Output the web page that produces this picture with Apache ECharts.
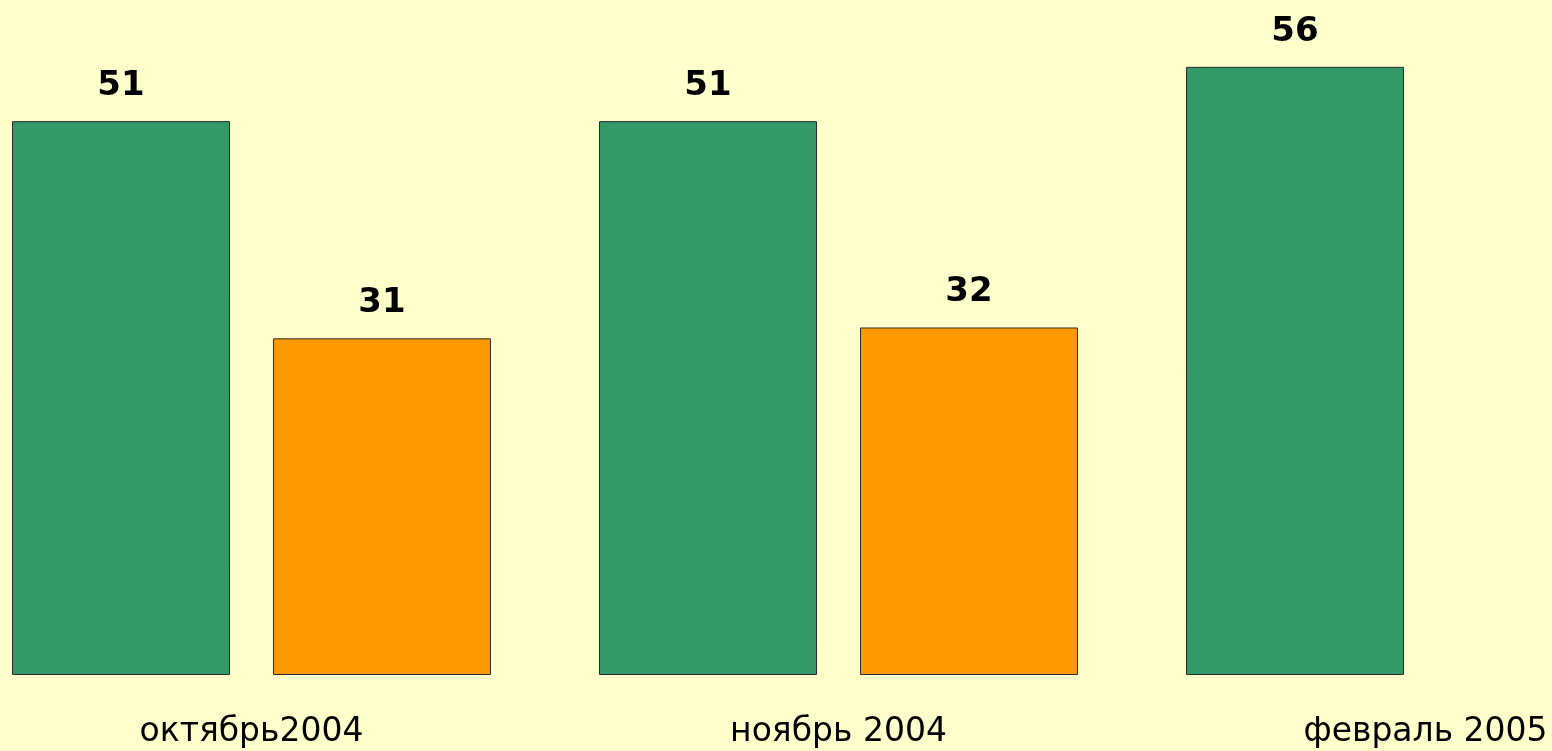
<!DOCTYPE html>
<html>
<head>
<meta charset="utf-8">
<script src="https://cdn.jsdelivr.net/npm/echarts@6/dist/echarts.min.js"></script>
<style>
  html, body { margin: 0; padding: 0; background: #FFFFCC; }
  #chart { width: 1552px; height: 751px; }
</style>
</head>
<body>
<div id="chart"></div>
<script>
const categories = ["октябрь2004", "ноябрь 2004", "февраль 2005"];
const greenValues = [51, 51, 56];
const orangeValues = [31, 32, null];

const chart = echarts.init(document.getElementById("chart"), null, { renderer: "canvas" });

const valueLabel = {
  show: true,
  position: "top",
  distance: 18,
  fontFamily: "DejaVu Sans",
  fontWeight: "bold",
  fontSize: 34,
  color: "#000000",
};

const option = {
  backgroundColor: "#FFFFCC",
  animation: false,
  grid: {
    left: -42,
    width: 1761,
    top: 23.4,
    bottom: 76,
    outerBoundsMode: "none",
    containLabel: false,
  },
  xAxis: {
    type: "category",
    data: categories,
    axisLine: { show: false },
    axisTick: { show: false },
    axisLabel: {
      margin: 41,
      fontFamily: "DejaVu Sans",
      fontSize: 33,
      color: "#000000",
    },
  },
  yAxis: {
    type: "value",
    min: 0,
    max: 60,
    show: false,
    splitLine: { show: false },
  },
  series: [
    {
      type: "bar",
      data: greenValues,
      barWidth: 218,
      barGap: "19.7%",
      itemStyle: { color: "#339966", borderColor: "#2a2a2a", borderWidth: 1 },
      label: valueLabel,
    },
    {
      type: "bar",
      data: orangeValues,
      barWidth: 218,
      itemStyle: { color: "#FF9900", borderColor: "#2a2a2a", borderWidth: 1 },
      label: valueLabel,
    },
  ],
};

chart.setOption(option);
</script>
</body>
</html>
